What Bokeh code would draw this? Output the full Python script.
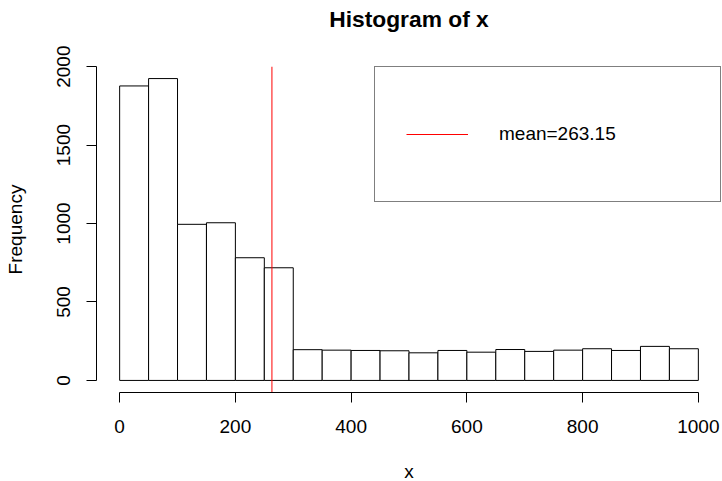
from bokeh.plotting import figure
from bokeh.models import Range1d, FixedTicker, Legend, LegendItem, Title
from bokeh.embed import file_html
from bokeh.resources import INLINE

# ---- data ----
bin_edges = [0, 50, 100, 150, 200, 250, 300, 350, 400, 450, 500,
             550, 600, 650, 700, 750, 800, 850, 900, 950, 1000]
counts = [1877, 1924, 995, 1005, 782, 718, 196, 193, 191, 189,
          176, 191, 180, 197, 185, 193, 202, 191, 217, 202]
mean_x = 263.15
x_ticks = [0, 200, 400, 600, 800, 1000]
y_ticks = [0, 500, 1000, 1500, 2000]
title_text = "Histogram of x"
x_label = "x"
y_label = "Frequency"
legend_label = "mean=263.15"

# R-style 4% range extension
x_pad = 0.04 * (bin_edges[-1] - bin_edges[0])
y_pad = 0.04 * max(counts)
x_lo, x_hi = bin_edges[0] - x_pad, bin_edges[-1] + x_pad
y_lo, y_hi = -y_pad, max(counts) + y_pad

FONT = "Liberation Sans"
FS = "19px"
RED = "#FF0000"

p = figure(
    output_backend="svg", toolbar_location=None,
    frame_width=625, frame_height=326,
    min_border_left=96, min_border_right=1,
    min_border_top=66, min_border_bottom=89,
    x_range=Range1d(x_lo, x_hi), y_range=Range1d(y_lo, y_hi),
)
p.outline_line_color = None
p.background_fill_color = "white"
p.border_fill_color = "white"
p.xgrid.visible = False
p.ygrid.visible = False

# spacer between plot region and title, then the title itself (outermost)
spacer = Title(text=" ", text_font_size="1px", standoff=25)
p.add_layout(spacer, "above")
main_title = Title(text=title_text, align="center", vertical_align="top",
                   text_font=FONT, text_font_size="22.8px",
                   text_font_style="bold", text_color="black", standoff=9)
p.add_layout(main_title, "above")

# bars
p.quad(left=bin_edges[:-1], right=bin_edges[1:], bottom=0, top=counts,
       fill_color="white", line_color="black", line_width=1)

# mean line (spans the whole plot region, like abline)
mean_r = p.line(x=[mean_x, mean_x], y=[y_lo, y_hi],
                line_color=RED, line_width=1, line_alpha=1.0)

# axes
for ax in (p.xaxis[0], p.yaxis[0]):
    ax.axis_line_color = "black"
    ax.major_tick_line_color = "black"
    ax.minor_tick_line_color = None
    ax.major_tick_in = 0
    ax.major_tick_out = 10
    ax.major_label_text_font = FONT
    ax.major_label_text_font_size = FS
    ax.major_label_text_color = "black"
    ax.axis_label_text_font = FONT
    ax.axis_label_text_font_size = FS
    ax.axis_label_text_font_style = "normal"
    ax.axis_label_text_color = "black"

p.xaxis[0].ticker = FixedTicker(ticks=x_ticks)
p.xaxis[0].bounds = (x_ticks[0], x_ticks[-1])
p.xaxis[0].axis_label = x_label
p.xaxis[0].major_label_standoff = 17
p.xaxis[0].axis_label_standoff = 25

p.yaxis[0].ticker = FixedTicker(ticks=y_ticks)
p.yaxis[0].bounds = (y_ticks[0], y_ticks[-1])
p.yaxis[0].axis_label = y_label
p.yaxis[0].major_label_orientation = "vertical"
p.yaxis[0].major_label_standoff = 16
p.yaxis[0].axis_label_standoff = 29

# legend
legend = Legend(items=[LegendItem(label=legend_label, renderers=[mean_r], index=0)],
                location="top_right", margin=0, padding=31,
                glyph_width=62, glyph_height=72,
                label_standoff=31, label_width=190, label_height=72,
                border_line_color="black", border_line_width=1,
                background_fill_color="white", background_fill_alpha=1,
                label_text_font=FONT, label_text_font_size=FS,
                label_text_color="black")
p.add_layout(legend)

open("out.html", "w").write(file_html(p, INLINE))
